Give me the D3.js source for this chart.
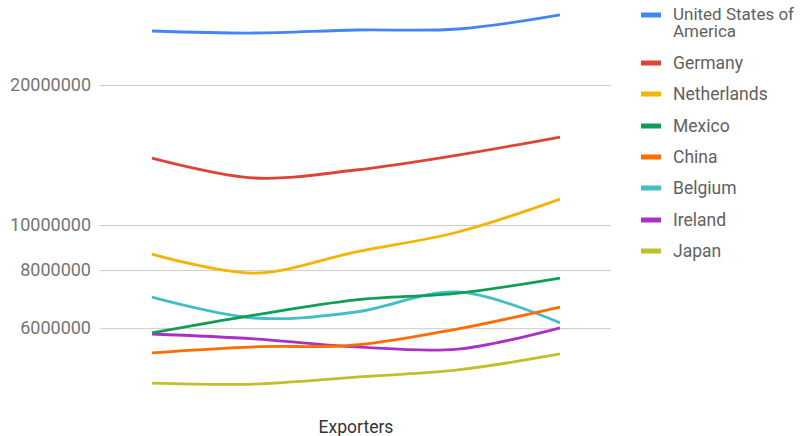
<!DOCTYPE html>
<html><head><meta charset="utf-8">
<script src="https://cdn.jsdelivr.net/npm/d3@7"></script>
<style>body{margin:0;background:#fff}svg{display:block;font-family:Roboto,"Noto Sans",sans-serif}</style>
</head><body><svg id="c" width="804" height="436"></svg>
<script>
const categories = ["1", "2", "3", "4", "5"];
const seriesNames = ["United States of America","Germany","Netherlands","Mexico","China","Belgium","Ireland","Japan"];
const colors = ["#4285f4","#db4437","#f4b400","#0f9d58","#ff6d00","#46bdc6","#ab30c4","#c0c02a"];
const usa         = [26130000, 25870000, 26260000, 26390000, 28300000];
const germany     = [13930000, 12620000, 13130000, 14140000, 15460000];
const netherlands = [8660000, 7880000, 8750000, 9660000, 11370000];
const mexico      = [5860000, 6400000, 6900000, 7140000, 7690000];
const china       = [5310000, 5470000, 5520000, 5980000, 6660000];
const belgium     = [7000000, 6310000, 6500000, 7180000, 6160000];
const ireland     = [5830000, 5690000, 5470000, 5410000, 6010000];
const japan       = [4570000, 4550000, 4710000, 4880000, 5280000];
const tickValues = [6000000, 8000000, 10000000, 20000000];
const xTitle = "Exporters";

const allSeries = [usa, germany, netherlands, mexico, china, belgium, ireland, japan];
const svg = d3.select("#c");

const y = d3.scaleLog().domain([1e7, 2e7]).range([225, 85]);
const x = d3.scalePoint().domain(categories).range([152, 560]);

const yAxis = d3.axisLeft(y).tickValues(tickValues).tickSize(511).tickFormat(d3.format("d")).tickPadding(9);
const ga = svg.append("g").attr("transform", "translate(611,0)").call(yAxis);
ga.select(".domain").remove();
ga.selectAll(".tick line").attr("stroke", "#cccccc").attr("stroke-width", 1);
ga.selectAll(".tick text").attr("fill", "#757575").attr("font-size", 18).attr("font-family", "Roboto");

const line = d3.line().x((d, i) => x(categories[i])).y(d => y(d)).curve(d3.curveCatmullRom.alpha(0.5));
allSeries.slice().reverse().forEach((s, ri) => {
  const i = allSeries.length - 1 - ri;
  svg.append("path").attr("d", line(s)).attr("fill", "none").attr("stroke", colors[i]).attr("stroke-width", 2.8);
});

svg.append("text").attr("x", 356).attr("y", 433).attr("text-anchor", "middle").attr("fill", "#333").attr("font-size", 17.5).text(xTitle);

const lg = svg.append("g");
const rowsY = [15, 63, 94, 126, 157, 188, 220, 251];
seriesNames.forEach((n, i) => {
  const cy = rowsY[i];
  lg.append("rect").attr("x", 641).attr("y", cy - 2.5).attr("width", 20).attr("height", 5).attr("fill", colors[i]);
  if (i === 0) {
    lg.append("text").attr("x", 673).attr("y", cy + 5).attr("fill", "#616161").attr("font-size", 17).text("United States of");
    lg.append("text").attr("x", 673).attr("y", cy + 22).attr("fill", "#616161").attr("font-size", 17).text("America");
  } else {
    lg.append("text").attr("x", 673).attr("y", cy + 6).attr("fill", "#616161").attr("font-size", 17.5).text(n);
  }
});
</script></body></html>
